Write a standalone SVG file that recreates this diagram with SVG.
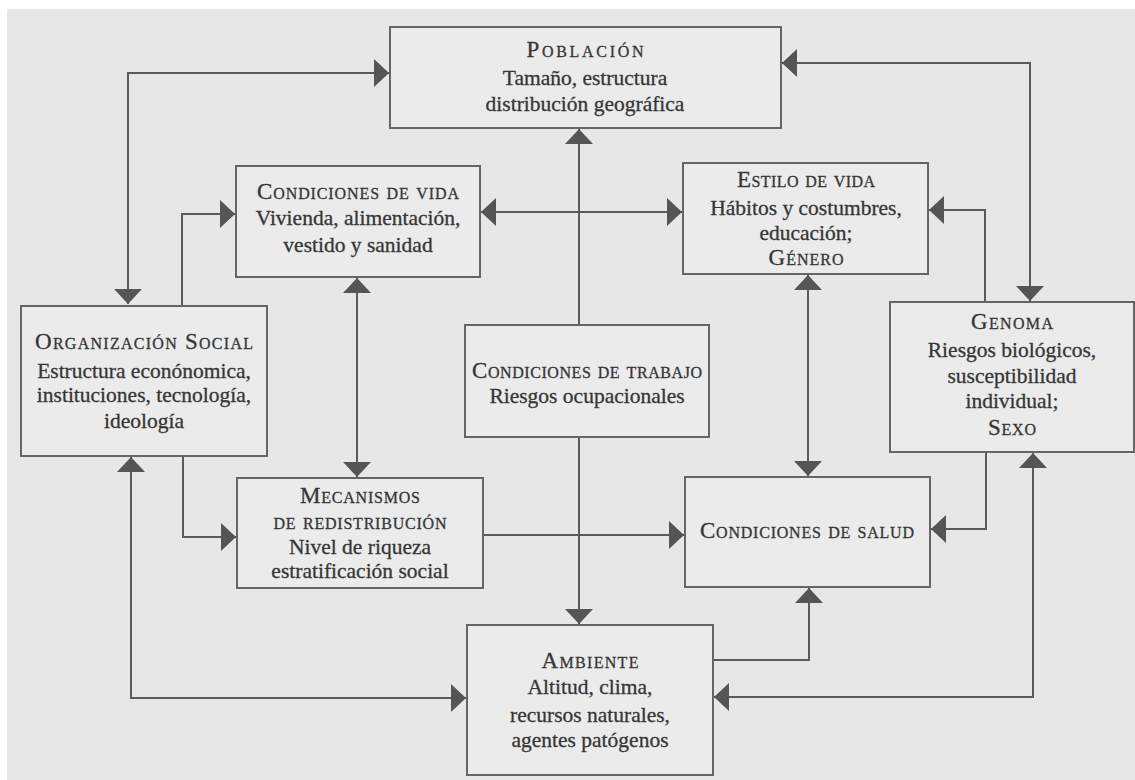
<svg xmlns="http://www.w3.org/2000/svg" width="1135" height="780" viewBox="0 0 1135 780" font-family="Liberation Serif, DejaVu Serif, Times New Roman, serif">
<defs>
<style>
text{font-family:"Liberation Serif","DejaVu Serif","Times New Roman",serif}
.box{fill:#ebebeb;stroke:#656565;stroke-width:2}
.t{font-size:21.5px;fill:#363636;stroke:#363636;stroke-width:0.3;text-anchor:middle}
.sc{font-variant:small-caps;font-size:23px}
.cn{fill:none;stroke:#5a5a5a;stroke-width:2}
.a{marker-end:url(#ah)}
.b{marker-start:url(#ah);marker-end:url(#ah)}
</style>
<marker id="ah" markerUnits="userSpaceOnUse" markerWidth="17" markerHeight="30" refX="15" refY="14" orient="auto-start-reverse" viewBox="0 0 17 30">
<path d="M0,0 L15,14 L0,28 z" fill="#555555"/>
</marker>
</defs>
<rect x="0" y="0" width="1135" height="780" fill="#ffffff"/>
<rect x="7" y="9" width="1128" height="771" fill="#e7e7e7"/>

<g id="connectors">
<path class="cn b" d="M128,304 V73 H389"/>
<path class="cn a" d="M182,306 V214 H235"/>
<path class="cn b" d="M131,457 V698 H466"/>
<path class="cn a" d="M183,456 V537 H236"/>
<path class="cn b" d="M357,278 V477"/>
<path class="cn b" d="M481,212 H682"/>
<path class="cn a" d="M579,325 V129"/>
<path class="cn a" d="M579,437 V624"/>
<path class="cn a" d="M483,535 H684"/>
<path class="cn b" d="M808,275 V476"/>
<path class="cn a" d="M985,302 V210 H929"/>
<path class="cn b" d="M782,63 H1030 V301"/>
<path class="cn a" d="M986,452 V529 H931"/>
<path class="cn b" d="M714,697 H1033 V453"/>
<path class="cn a" d="M713,660 H809 V588"/>
</g>

<g id="poblacion">
<rect class="box" x="390" y="27" width="391" height="101"/>
<text class="t sc" x="585" y="57" textLength="117" lengthAdjust="spacing">Población</text>
<text class="t" x="585" y="85">Tamaño, estructura</text>
<text class="t" x="585" y="111">distribución geográfica</text>
</g>

<g id="condiciones-vida">
<rect class="box" x="236" y="166" width="244" height="111"/>
<text class="t sc" x="358" y="199" textLength="202" lengthAdjust="spacing">Condiciones de vida</text>
<text class="t" x="358" y="225">Vivienda, alimentación,</text>
<text class="t" x="358" y="252">vestido y sanidad</text>
</g>

<g id="estilo-vida">
<rect class="box" x="683" y="163" width="245" height="111"/>
<text class="t sc" x="806" y="187" textLength="138" lengthAdjust="spacing">Estilo de vida</text>
<text class="t" x="806" y="215">Hábitos y costumbres,</text>
<text class="t" x="806" y="240">educación;</text>
<text class="t sc" x="806" y="265" textLength="75" lengthAdjust="spacing">Género</text>
</g>

<g id="organizacion-social">
<rect class="box" x="21" y="306" width="246" height="150"/>
<text class="t sc" x="144" y="349" textLength="218" lengthAdjust="spacing">Organización Social</text>
<text class="t" x="144" y="378">Estructura econónomica,</text>
<text class="t" x="144" y="402">instituciones, tecnología,</text>
<text class="t" x="144" y="428">ideología</text>
</g>

<g id="condiciones-trabajo">
<rect class="box" x="465" y="325" width="244" height="112"/>
<text class="t sc" x="587" y="378" textLength="230" lengthAdjust="spacing">Condiciones de trabajo</text>
<text class="t" x="587" y="403">Riesgos ocupacionales</text>
</g>

<g id="genoma">
<rect class="box" x="890" y="302" width="244" height="150"/>
<text class="t sc" x="1012" y="329" textLength="82" lengthAdjust="spacing">Genoma</text>
<text class="t" x="1012" y="357">Riesgos biológicos,</text>
<text class="t" x="1012" y="383">susceptibilidad</text>
<text class="t" x="1012" y="408">individual;</text>
<text class="t sc" x="1012" y="435" textLength="48" lengthAdjust="spacing">Sexo</text>
</g>

<g id="mecanismos">
<rect class="box" x="237" y="478" width="246" height="110"/>
<text class="t sc" x="360" y="503" textLength="120" lengthAdjust="spacing">Mecanismos</text>
<text class="t sc" x="360" y="529" textLength="173" lengthAdjust="spacing">de redistribución</text>
<text class="t" x="360" y="554">Nivel de riqueza</text>
<text class="t" x="360" y="578">estratificación social</text>
</g>

<g id="condiciones-salud">
<rect class="box" x="685" y="477" width="245" height="110"/>
<text class="t sc" x="807" y="538" textLength="214" lengthAdjust="spacing">Condiciones de salud</text>
</g>

<g id="ambiente">
<rect class="box" x="467" y="625" width="246" height="150"/>
<text class="t sc" x="590" y="668" textLength="97" lengthAdjust="spacing">Ambiente</text>
<text class="t" x="590" y="694">Altitud, clima,</text>
<text class="t" x="590" y="722">recursos naturales,</text>
<text class="t" x="590" y="747">agentes patógenos</text>
</g>
</svg>
